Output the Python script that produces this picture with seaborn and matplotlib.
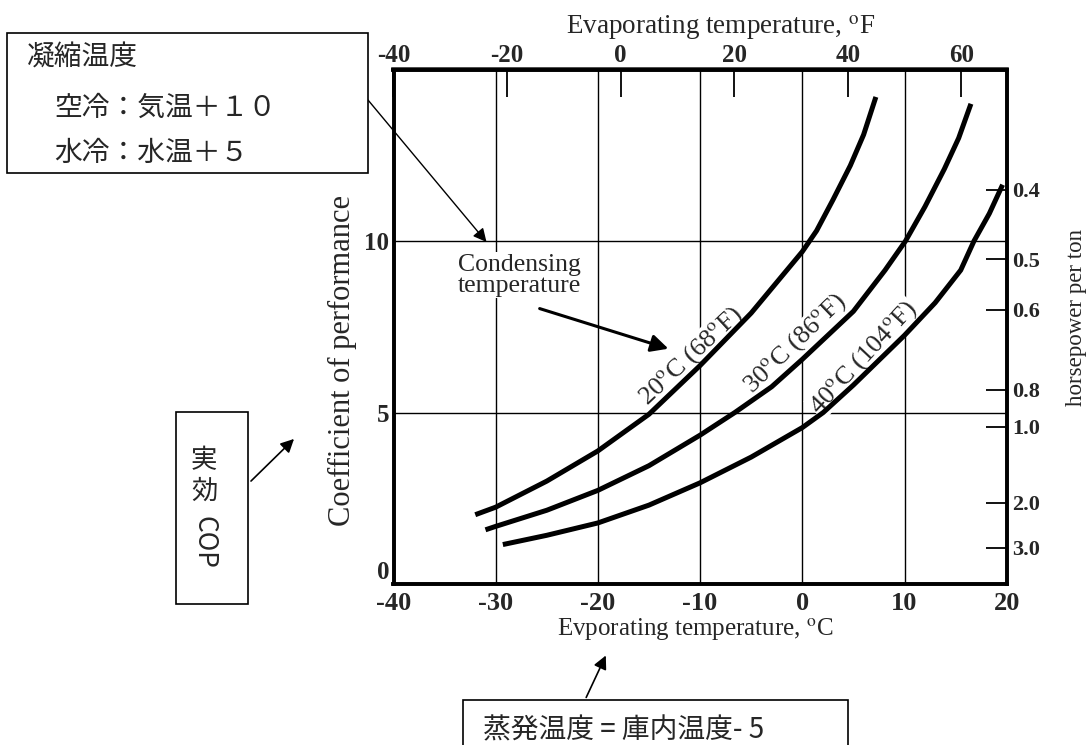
import matplotlib
matplotlib.use("Agg")
import matplotlib.pyplot as plt
import seaborn as sns
import pandas as pd
from matplotlib.patches import Rectangle, FancyArrowPatch

# ---- data ----
evap_20 = [-32.0, -30.0, -25.0, -20.0, -15.0, -10.0, -5.0, 0.0, 1.4, 3.0, 4.7, 6.0, 7.2]
cop_20 = [2.02, 2.24, 3.0, 3.88, 4.95, 6.37, 7.9, 9.69, 10.3, 11.2, 12.2, 13.1, 14.2]

evap_30 = [-31.0, -30.0, -25.0, -20.0, -15.0, -10.0, -6.6, -3.0, 0.0, 5.0, 8.1, 10.1, 12.0, 13.9, 15.3, 16.5]
cop_30 = [1.58, 1.68, 2.15, 2.73, 3.45, 4.34, 5.0, 5.75, 6.55, 7.95, 9.15, 10.0, 11.0, 12.1, 13.0, 14.0]

evap_40 = [-29.3, -25.0, -20.0, -15.0, -10.0, -5.0, 0.0, 2.05, 5.0, 10.0, 13.0, 15.5, 16.8, 18.3, 19.6]
cop_40 = [1.15, 1.42, 1.78, 2.3, 2.95, 3.7, 4.56, 5.0, 5.8, 7.25, 8.2, 9.15, 10.0, 10.8, 11.64]

cond_labels = ["20$^{\\mathrm{o}}$C (68$^{\\mathrm{o}}$F)",
               "30$^{\\mathrm{o}}$C (86$^{\\mathrm{o}}$F)",
               "40$^{\\mathrm{o}}$C (104$^{\\mathrm{o}}$F)"]
cond_label_x = [-10.9, -0.7, 6.0]
cond_label_y = [6.65, 7.0, 6.6]
cond_label_rot = [43, 44, 47]

x_ticks_c = [-40, -30, -20, -10, 0, 10, 20]
y_ticks_cop = [0, 5, 10]
x_ticks_f = [-40, -20, 0, 20, 40, 60]
hp_labels = ["0.4", "0.5", "0.6", "0.8", "1.0", "2.0", "3.0"]
hp_tick_cop = [11.49, 9.47, 7.99, 5.66, 4.58, 2.37, 1.05]

# ---- style ----
sns.set_theme(style="white")
plt.rcParams["font.family"] = ["Liberation Serif", "DejaVu Serif"]
plt.rcParams["mathtext.fontset"] = "stix"
plt.rcParams["axes.unicode_minus"] = False
CJK = ["Noto Sans CJK JP", "DejaVu Sans"]

W, H = 1088, 745
fig = plt.figure(figsize=(W / 100, H / 100), dpi=100)
fig.patch.set_facecolor("white")
ax = fig.add_axes([393.5 / W, (H - 584) / H, 613.2 / W, 514.5 / H])
ax.set_facecolor("white")

df = pd.concat([
    pd.DataFrame({"evap": evap_20, "cop": cop_20, "cond": "20"}),
    pd.DataFrame({"evap": evap_30, "cop": cop_30, "cond": "30"}),
    pd.DataFrame({"evap": evap_40, "cop": cop_40, "cond": "40"}),
])
sns.lineplot(data=df, x="evap", y="cop", hue="cond", palette=["black"] * 3,
             linewidth=3.6, legend=False, sort=False, ax=ax, zorder=5)
for ln in ax.get_lines():
    ln.set_solid_capstyle("butt")
    ln.set_solid_joinstyle("round")

ax.set_xlim(-40, 20)
ax.set_ylim(0, 15)
ax.set_xticks(x_ticks_c)
ax.set_yticks(y_ticks_cop)
ax.grid(True, color="black", linewidth=1.0)
ax.set_axisbelow(True)
ax.tick_params(axis="x", length=0, labelsize=19, pad=6)
ax.tick_params(axis="y", length=0, labelsize=18, pad=3)
for lab in ax.get_xticklabels() + ax.get_yticklabels():
    lab.set_fontweight("bold")
ax.get_yticklabels()[0].set_va("bottom")
for sp in ax.spines.values():
    sp.set_linewidth(2.6)
    sp.set_color("black")

ax.set_xlabel("Evporating temperature, $^{\\mathrm{o}}$C", fontsize=18, va="center")
ax.xaxis.set_label_coords(0.493, -0.0894)
ax.set_ylabel("Coefficient of performance", fontsize=22, va="center", ha="center")
ax.yaxis.set_label_coords(-0.0824, 0.435)

# top Fahrenheit axis
secx = ax.secondary_xaxis("top", functions=(lambda c: c * 9 / 5 + 32, lambda f: (f - 32) * 5 / 9))
secx.set_xticks(x_ticks_f)
secx.tick_params(direction="in", length=20, width=1.3, labelsize=18, pad=2, color="black")
for lab in secx.get_xticklabels():
    lab.set_fontweight("bold")
secx.spines["top"].set_linewidth(2.6)
fig.text(721 / W, 1 - 28 / H, "Evaporating temperature, $^{\\mathrm{o}}$F",
         fontsize=19.5, ha="center", va="center")

# right horsepower axis
ax2 = ax.twinx()
ax2.set_ylim(0, 15)
ax2.set_yticks(hp_tick_cop)
ax2.set_yticklabels(hp_labels)
ax2.tick_params(axis="y", direction="in", length=15, width=1.3, labelsize=16, pad=4, color="black")
for lab in ax2.get_yticklabels():
    lab.set_fontweight("bold")
ax2.grid(False)
for sp in ax2.spines.values():
    sp.set_linewidth(2.6)
    sp.set_color("black")
ax2.set_ylabel("horsepower per ton", fontsize=16.5, va="center", rotation=90)
ax2.yaxis.set_label_coords(1.1145, 0.518)

# curve labels
for tx, ty, t, r in zip(cond_label_x, cond_label_y, cond_labels, cond_label_rot):
    ax.text(tx, ty, t, rotation=r, rotation_mode="anchor", ha="center", va="center",
            fontsize=19, zorder=4,
            bbox=dict(facecolor="white", edgecolor="none", pad=0.5))

ax.text(-27.7, 9.0, "Condensing\ntemperature", ha="center", va="center", fontsize=18.5,
        linespacing=0.95, zorder=4, bbox=dict(facecolor="white", edgecolor="none", pad=1.0))
ax.annotate("", xy=(-13.1, 6.86), xytext=(-25.7, 8.03),
            arrowprops=dict(arrowstyle="-|>", lw=2.2, color="black", mutation_scale=26,
                            shrinkA=0, shrinkB=0), zorder=6)

# ---- Japanese annotation boxes ----
def box(x0, y0, x1, y1):
    fig.patches.append(Rectangle((x0 / W, (H - y1) / H), (x1 - x0) / W, (y1 - y0) / H,
                                 transform=fig.transFigure, facecolor="white",
                                 edgecolor="black", linewidth=1.2, zorder=0))

box(7, 33, 368, 173)
fig.text(27 / W, 1 - 58 / H, "凝縮温度", family=CJK, fontsize=20, ha="left", va="center")
fig.text(54 / W, 1 - 108 / H, "空冷：気温＋１０", family=CJK, fontsize=20, ha="left", va="center")
fig.text(54 / W, 1 - 153 / H, "水冷：水温＋５", family=CJK, fontsize=20, ha="left", va="center")
ax.annotate("", xy=(-30.9, 9.97), xycoords="data",
            xytext=(368 / W, 1 - 100 / H), textcoords="figure fraction",
            arrowprops=dict(arrowstyle="-|>", lw=1.0, color="black", mutation_scale=20,
                            shrinkA=0, shrinkB=0), annotation_clip=False, zorder=6)

box(176, 412, 248, 604)
fig.text(204 / W, 1 - 461 / H, "実", family=CJK, fontsize=19, ha="center", va="center")
fig.text(204 / W, 1 - 491 / H, "効", family=CJK, fontsize=19, ha="center", va="center")
fig.text(204 / W, 1 - 542 / H, "COP", family=CJK, fontsize=19, ha="center", va="center", rotation=-90)
fig.add_artist(FancyArrowPatch(
    (249 / W, 1 - 483 / H), (296 / W, 1 - 437 / H), transform=fig.transFigure,
    arrowstyle="-|>", mutation_scale=20, lw=1.2, color="black"))

box(463, 700, 848, 760)
fig.text(483 / W, 1 - 730 / H, "蒸発温度 = 庫内温度- 5", family=CJK, fontsize=20, ha="left", va="center")
fig.add_artist(FancyArrowPatch(
    (585 / W, 1 - 700 / H), (607 / W, 1 - 653 / H), transform=fig.transFigure,
    arrowstyle="-|>", mutation_scale=20, lw=1.2, color="black"))

fig.savefig("out.png", dpi=100)
